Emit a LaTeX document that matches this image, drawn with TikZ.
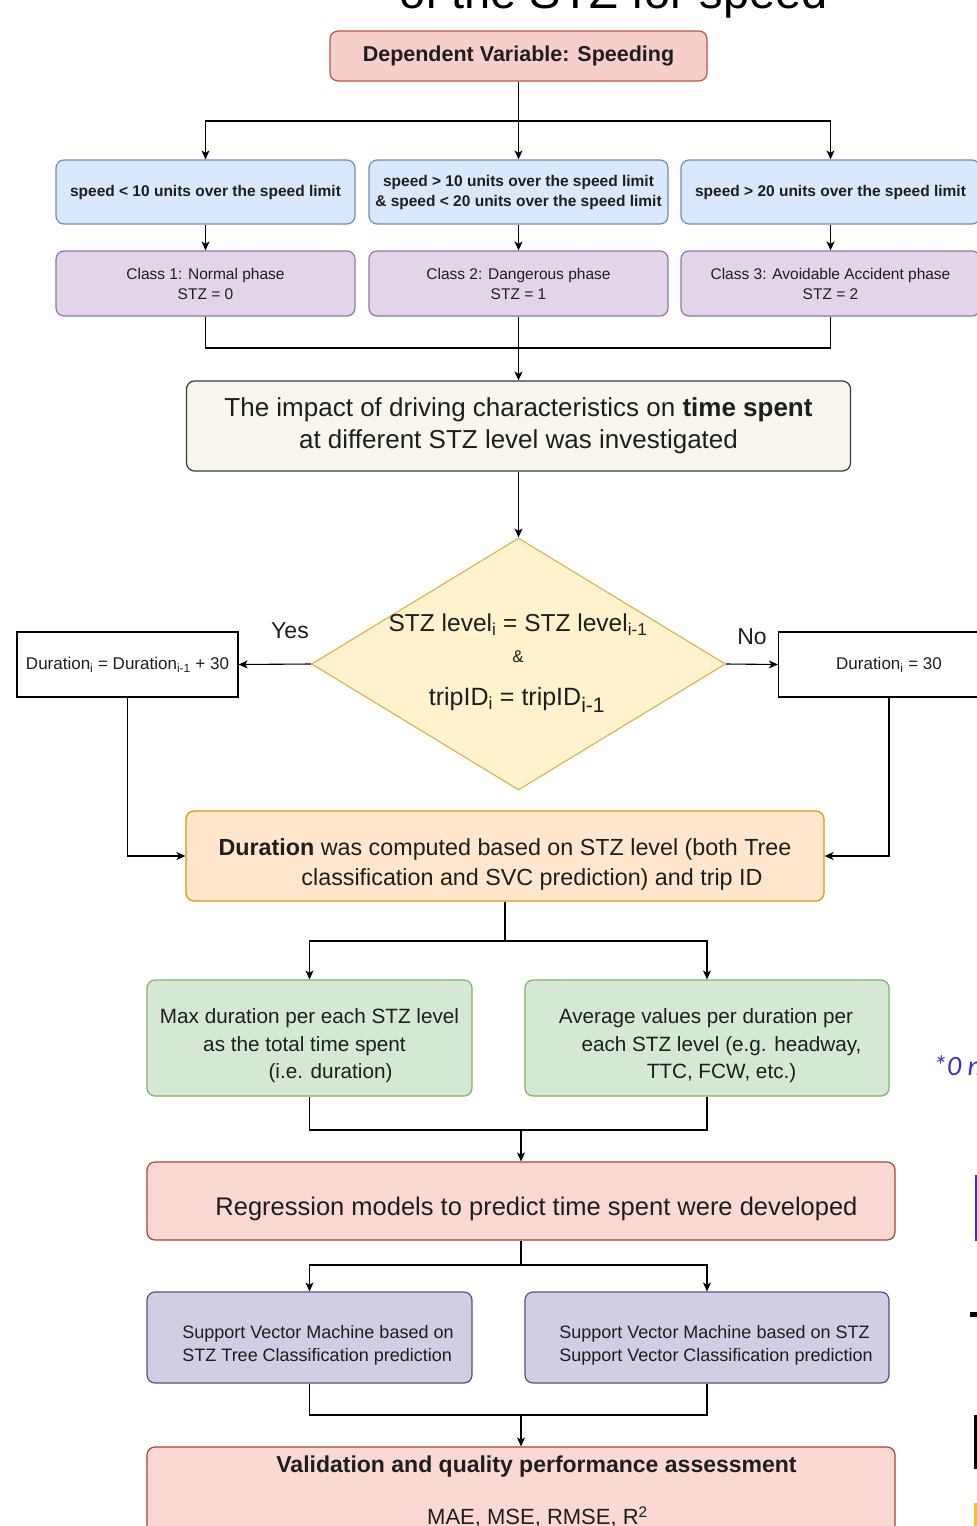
\documentclass[tikz,border=0pt]{standalone}
\usepackage{fontspec}
\setmainfont{Liberation Sans}
\newfontfamily\fragfont{Carlito}
\usetikzlibrary{shapes.geometric,arrows.meta}
\definecolor{pinkf}{HTML}{F8CECC}
\definecolor{pinkd}{HTML}{B85450}
\definecolor{bluef}{HTML}{DAE8FC}
\definecolor{blued}{HTML}{6C8EBF}
\definecolor{purf}{HTML}{E1D5E7}
\definecolor{purd}{HTML}{9673A6}
\definecolor{impf}{HTML}{F9F7ED}
\definecolor{impd}{HTML}{36393D}
\definecolor{yelf}{HTML}{FFF2CC}
\definecolor{yeld}{HTML}{D6B656}
\definecolor{orf}{HTML}{FFE6CC}
\definecolor{ord}{HTML}{D79B00}
\definecolor{grf}{HTML}{D5E8D4}
\definecolor{grd}{HTML}{82B366}
\definecolor{svf}{HTML}{D0CEE2}
\definecolor{svd}{HTML}{56517E}
\definecolor{redf}{HTML}{FAD9D5}
\definecolor{redd}{HTML}{AE4132}
\definecolor{fragblue}{HTML}{3333CC}
\definecolor{fragyellow}{HTML}{F2C037}
\definecolor{txtc}{HTML}{1E1E1E}
\newcommand\fsz[2]{\fontsize{#1pt}{#2pt}\selectfont}
\begin{document}
\begin{tikzpicture}[x=1pt,y=-1pt,
  box/.style={draw, rounded corners=8pt, line width=1.2pt, inner sep=0pt, text=txtc},
  plainbox/.style={draw, line width=1.2pt, inner sep=0pt, fill=white, text=txtc},
  arr/.style={-{Stealth[length=9pt,width=8pt,inset=2.5pt]}, line width=1.1pt},
  ln/.style={line width=1.1pt},
  txt/.style={inner sep=0pt, align=center, text=txtc}]
\useasboundingbox (0,0) rectangle (977,1526);
\clip (0,0) rectangle (977,1526);
\fill[white] (0,0) rectangle (977,1526);

% title fragment
\node[inner sep=0pt, anchor=base, font=\fsz{47}{56}] (title) at (613.5,8) {of the STZ for speed};

% top
\node[box, fill=pinkf, draw=pinkd, minimum width=377pt, minimum height=50pt, font=\bfseries\fsz{21.5}{26}] (dep) at (518.5,56) {Dependent Variable: Speeding};

% blue
\node[box, fill=bluef, draw=blued, minimum width=299pt, minimum height=64pt, font=\bfseries\fsz{15.5}{20}] (b1) at (205.5,192) {speed < 10 units over the speed limit};
\node[box, fill=bluef, draw=blued, minimum width=299pt, minimum height=64pt, align=center, font=\bfseries\fsz{15.5}{20}] (b2) at (518.5,192) {speed > 10 units over the speed limit\\\& speed < 20 units over the speed limit};
\node[box, fill=bluef, draw=blued, minimum width=299pt, minimum height=64pt, font=\bfseries\fsz{15.5}{20}] (b3) at (830.5,192) {speed > 20 units over the speed limit};

% purple
\node[box, fill=purf, draw=purd, minimum width=299pt, minimum height=65pt, align=center, font=\fsz{15.5}{20}] (p1) at (205.5,283.5) {Class 1: Normal phase\\STZ = 0};
\node[box, fill=purf, draw=purd, minimum width=299pt, minimum height=65pt, align=center, font=\fsz{15.5}{20}] (p2) at (518.5,283.5) {Class 2: Dangerous phase\\STZ = 1};
\node[box, fill=purf, draw=purd, minimum width=299pt, minimum height=65pt, align=center, font=\fsz{15.5}{20}] (p3) at (830.5,283.5) {Class 3: Avoidable Accident phase\\STZ = 2};

% impact
\node[box, fill=impf, draw=impd, minimum width=664pt, minimum height=90pt, align=center, font=\fsz{26}{32}] (imp) at (518.5,426) {The impact of driving characteristics on \textbf{time spent}\\at different STZ level was investigated};

% diamond
\node[diamond, draw=yeld, fill=yelf, line width=1.2pt, minimum width=414pt, minimum height=252pt, inner sep=0pt] (dia) at (518.5,664) {};
\node[txt, font=\fsz{24.5}{28}] (dt1) at (518,625) {STZ level\textsubscript{i} = STZ level\textsubscript{i-1}};
\node[txt, font=\fsz{17}{20}] (dt2) at (518,657) {\&};
\node[txt, font=\fsz{25}{28}] (dt3) at (517,700) {tripID\textsubscript{i} = tripID\textsubscript{\fsz{21}{24}i-1}};
\node[txt, font=\fsz{23}{28}] (yes) at (290,631) {Yes};
\node[txt, font=\fsz{23}{28}] (no) at (752,637) {No};

% side boxes
\node[plainbox, minimum width=221pt, minimum height=65pt, font=\fsz{17}{20}] (lb) at (127.5,664.5) {Duration\textsubscript{i} = Duration\textsubscript{i-1} + 30};
\node[plainbox, minimum width=221pt, minimum height=65pt, font=\fsz{17}{20}] (rb) at (889,664.5) {Duration\textsubscript{i} = 30};

% duration
\node[box, fill=orf, draw=ord, minimum width=638pt, minimum height=90pt] (dur) at (505,856) {};
\node[txt, font=\fsz{23.3}{30}] (dl1) at (505,849) {\textbf{Duration} was computed based on STZ level (both Tree};
\node[txt, font=\fsz{23.3}{30}] (dl2) at (532,879) {classification and SVC prediction) and trip ID};

% green
\node[box, fill=grf, draw=grd, minimum width=325pt, minimum height=116pt] (g1) at (309.5,1038) {};
\node[box, fill=grf, draw=grd, minimum width=364pt, minimum height=116pt] (g2) at (707,1038) {};
\node[txt, font=\fsz{20.7}{27}] (g1a) at (309.5,1018) {Max duration per each STZ level};
\node[txt, font=\fsz{20.7}{27}] (g1b) at (304.5,1046) {as the total time spent};
\node[txt, font=\fsz{20.7}{27}] (g1c) at (330.5,1073) {(i.e. duration)};
\node[txt, font=\fsz{20.7}{27}] (g2a) at (706,1018) {Average values per duration per};
\node[txt, font=\fsz{20.7}{27}] (g2b) at (721.5,1046) {each STZ level (e.g. headway,};
\node[txt, font=\fsz{20.7}{27}] (g2c) at (721.5,1073) {TTC, FCW, etc.)};

% regression
\node[box, fill=redf, draw=redd, minimum width=748pt, minimum height=78pt] (reg) at (521,1201) {};
\node[txt, font=\fsz{25.5}{30}] (regt) at (536.5,1209) {Regression models to predict time spent were developed};

% svm
\node[box, fill=svf, draw=svd, minimum width=325pt, minimum height=91pt] (s1) at (309.5,1337.5) {};
\node[box, fill=svf, draw=svd, minimum width=364pt, minimum height=91pt] (s2) at (707,1337.5) {};
\node[txt, align=left, font=\fsz{18}{23}] (s1t) at (318,1345.5) {Support Vector Machine based on\\STZ Tree Classification prediction};
\node[txt, align=left, font=\fsz{18}{23}] (s2t) at (716,1345.5) {Support Vector Machine based on STZ\\Support Vector Classification prediction};

% validation
\node[box, fill=redf, draw=redd, minimum width=748pt, minimum height=120pt] (val) at (521,1507) {};
\node[txt, font=\bfseries\fsz{23}{28}] (valt1) at (536.5,1467) {Validation and quality performance assessment};
\node[txt, font=\fsz{22}{28}] (valt2) at (537.5,1517) {MAE, MSE, RMSE, R\textsuperscript{2}};

% junctions
\coordinate (j1) at (518.5,121);
\coordinate (j2) at (518.5,348);
\coordinate (j3) at (505,941);
\coordinate (j4) at (521,1130);
\coordinate (j5) at (521,1265);
\coordinate (j6) at (521,1415);

% connectors
\draw[ln] (dep.south) -- (j1);
\draw[arr] (j1) -| (b1.north);
\draw[arr] (j1) -- (b2.north);
\draw[arr] (j1) -| (b3.north);
\draw[arr] (b1.south) -- (p1.north);
\draw[arr] (b2.south) -- (p2.north);
\draw[arr] (b3.south) -- (p3.north);
\draw[ln] (p1.south) |- (j2) -| (p3.south);
\draw[ln] (p2.south) -- (j2);
\draw[arr] (j2) -- (imp.north);
\draw[arr] (imp.south) -- (dia.north);
\draw[arr] (dia.west) -- (lb.east);
\draw[arr] (dia.east) -- (rb.west);
\draw[arr] (lb.south) |- (dur.west);
\draw[arr] (rb.south) |- (dur.east);
\draw[ln] (dur.south) -- (j3);
\draw[arr] (j3) -| (g1.north);
\draw[arr] (j3) -| (g2.north);
\draw[ln] (g1.south) |- (j4) -| (g2.south);
\draw[arr] (j4) -- (reg.north);
\draw[ln] (reg.south) -- (j5);
\draw[arr] (j5) -| (s1.north);
\draw[arr] (j5) -| (s2.north);
\draw[ln] (s1.south) |- (j6) -| (s2.south);
\draw[arr] (j6) -- (val.north);

% right-edge fragments
\node[inner sep=0pt, anchor=base west, text=fragblue, font=\fragfont\itshape\fsz{28}{32}] (frag) at (933,1075) {*0 m};
\fill[fragblue] (975,1175) rectangle (977,1241);
\fill[black] (970,1312) rectangle (977,1317);
\fill[black] (974,1415) rectangle (977,1469);
\fill[fragyellow] (974,1503) rectangle (977,1526);
\end{tikzpicture}
\end{document}
